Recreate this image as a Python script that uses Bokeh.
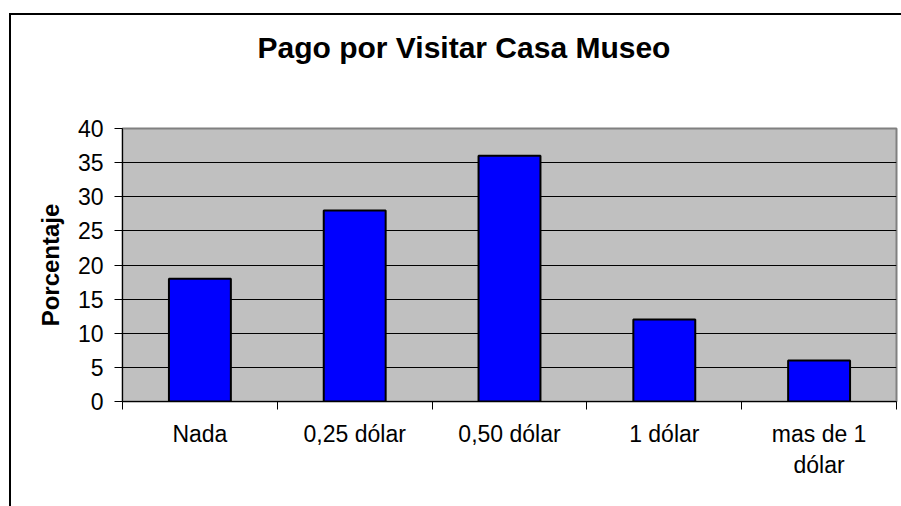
from bokeh.plotting import figure
from bokeh.models import Range1d, FixedTicker, Title, ColumnDataSource
from bokeh.embed import file_html
from bokeh.resources import INLINE
import numpy as np

# ---- data ----
categories = ["Nada", "0,25 dólar", "0,50 dólar", "1 dólar", "mas de 1\ndólar"]
values = [18, 28, 36, 12, 6]
y_ticks = [0, 5, 10, 15, 20, 25, 30, 35, 40]
title_text = "Pago por Visitar Casa Museo"
y_title = "Porcentaje"

FONT = "Liberation Sans"

n = len(categories)
centers = list(np.arange(n) + 0.5)
bounds = list(np.arange(n + 1).astype(float))

p = figure(width=901, height=506, output_backend="svg", toolbar_location=None,
           x_range=Range1d(0, n), y_range=Range1d(0, 40),
           min_border_left=122, min_border_right=5, min_border_top=128, min_border_bottom=105,
           title=None)

p.background_fill_color = "#C0C0C0"
p.border_fill_color = "white"
p.border_fill_alpha = 0
p.outline_line_color = "#808080"
p.outline_line_width = 2
# outer chart border (left and top edges visible in the reference)
p.styles = {
    "background": "linear-gradient(black, black) 9px 13px / 2px 493px no-repeat, "
                  "linear-gradient(black, black) 9px 13px / 892px 2px no-repeat, white"
}

src = ColumnDataSource(dict(x=centers, top=values))
p.vbar(x="x", top="top", width=0.4, bottom=0, source=src,
       fill_color="#0000FF", line_color="black", line_width=2)

# grid
p.xgrid.grid_line_color = None
p.ygrid.ticker = FixedTicker(ticks=y_ticks[1:-1])
p.ygrid.grid_line_color = "black"
p.ygrid.grid_line_width = 1

# y axis
ya = p.yaxis[0]
ya.ticker = FixedTicker(ticks=y_ticks)
ya.axis_line_color = "black"
ya.major_tick_in = 0
ya.major_tick_out = 8
ya.minor_tick_line_color = None
ya.major_label_text_font = FONT
ya.major_label_text_font_size = "23px"
ya.major_label_text_color = "black"
ya.major_label_standoff = 11
ya.axis_label = y_title
ya.axis_label_text_font = FONT
ya.axis_label_text_font_size = "24px"
ya.axis_label_text_font_style = "bold"
ya.axis_label_text_color = "black"
ya.axis_label_standoff = 11

# x axis
xa = p.xaxis[0]
xa.ticker = FixedTicker(ticks=centers, minor_ticks=bounds)
xa.major_label_overrides = {c: lab for c, lab in zip(centers, categories)}
xa.axis_line_color = "black"
xa.major_tick_line_color = None
xa.major_tick_in = 0
xa.major_tick_out = 0
xa.minor_tick_line_color = "black"
xa.minor_tick_in = 0
xa.minor_tick_out = 8
xa.major_label_text_font = FONT
xa.major_label_text_font_size = "23px"
xa.major_label_text_color = "black"
xa.major_label_standoff = 11

# spacer between title and plot area
p.add_layout(Title(text=" ", standoff=52, text_font=FONT, text_font_size="1px",
                   text_color="white"), "above")
# title
p.add_layout(Title(text=title_text, align="left", offset=135, standoff=20,
                   text_font=FONT, text_font_size="30px", text_font_style="bold",
                   text_color="black"), "above")

open("out.html", "w").write(file_html(p, INLINE))
